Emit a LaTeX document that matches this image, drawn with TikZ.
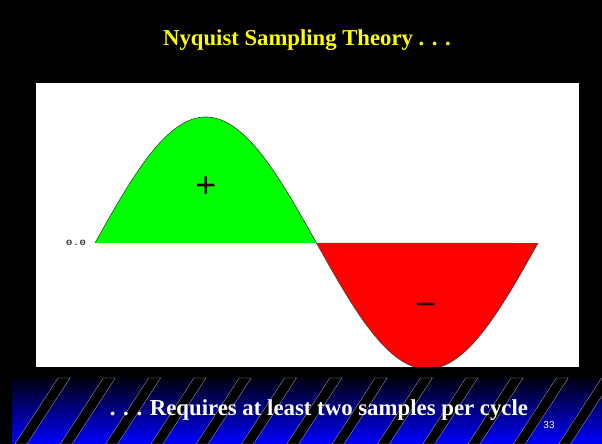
\documentclass[tikz,border=0pt]{standalone}
\usepackage{fontspec}
\setmainfont{Liberation Serif}
\setsansfont{Liberation Sans}
\setmonofont{Liberation Mono}
\usetikzlibrary{calc}
\definecolor{slideYellow}{HTML}{FFFF00}
\definecolor{posGreen}{HTML}{00FF00}
\definecolor{negRed}{HTML}{FF0000}
\definecolor{bandTop}{HTML}{000010}
\definecolor{bandBlue}{HTML}{0000FF}
\definecolor{curveGray}{HTML}{404040}
\tikzset{
  titleT/.style={text=slideYellow, font=\bfseries\fontsize{22.7}{22.7}\selectfont},
  footT/.style={text=white, font=\bfseries\fontsize{22.8}{22.8}\selectfont},
  pageT/.style={text=white, font=\sffamily\fontsize{10}{10}\selectfont},
  zeroT/.style={text=curveGray, font=\ttfamily\bfseries\fontsize{8}{8}\selectfont, xscale=1.4},
  signT/.style={text=black!85!red, font=\sffamily\fontsize{36}{36}\selectfont, inner sep=0pt},
  stripe/.style={fill=black, draw=gray!60, line width=0.3pt},
}

\begin{document}
\begin{tikzpicture}[x=1pt, y=1pt]
  % Fondo y panel
  \fill[black] (0,0) rectangle (602,444);
  \useasboundingbox (0,0) rectangle (602,444);
  \fill[white] (36,77) rectangle (579,361);
  % Onda senoidal
  \begin{scope}
    \clip (36,77) rectangle (579,361);
    \fill[posGreen] (95,201) -- plot[domain=95:316.5, samples=90]
      (\x, {201+126*sin(0.81264*(\x-95))}) -- cycle;
    \fill[negRed] (316.5,201) -- plot[domain=316.5:538, samples=90]
      (\x, {201+126*sin(0.81264*(\x-95))}) -- cycle;
    \draw[curveGray, line width=0.6pt] plot[domain=95:538, samples=180]
      (\x, {201+126*sin(0.81264*(\x-95))});
  \end{scope}
  \node[zeroT] (zero) at (76,201) {0.0};
  \node[signT] (plus) at (206,257) {+};
  \node[signT] (minus) at (426,134) {−};
  % Banda inferior
  \shade[top color=bandTop, bottom color=bandBlue] (12,0) rectangle (602,66);
  \begin{scope}
    \clip (12,0) rectangle (602,66);
    \foreach \i in {0,...,13}
      \draw[stripe] ({15+45.3*\i},0) -- ++(12,0) -- ++(43,66) -- ++(-12,0) -- cycle;
  \end{scope}
  % Textos
  \node[titleT] (title) at (307,404) {Nyquist Sampling Theory . . .};
  \node[footT] (foot) at (319,34) {. . . Requires at least two samples per cycle};
  \node[pageT] (page) at (549,19) {33};
\end{tikzpicture}
\end{document}
